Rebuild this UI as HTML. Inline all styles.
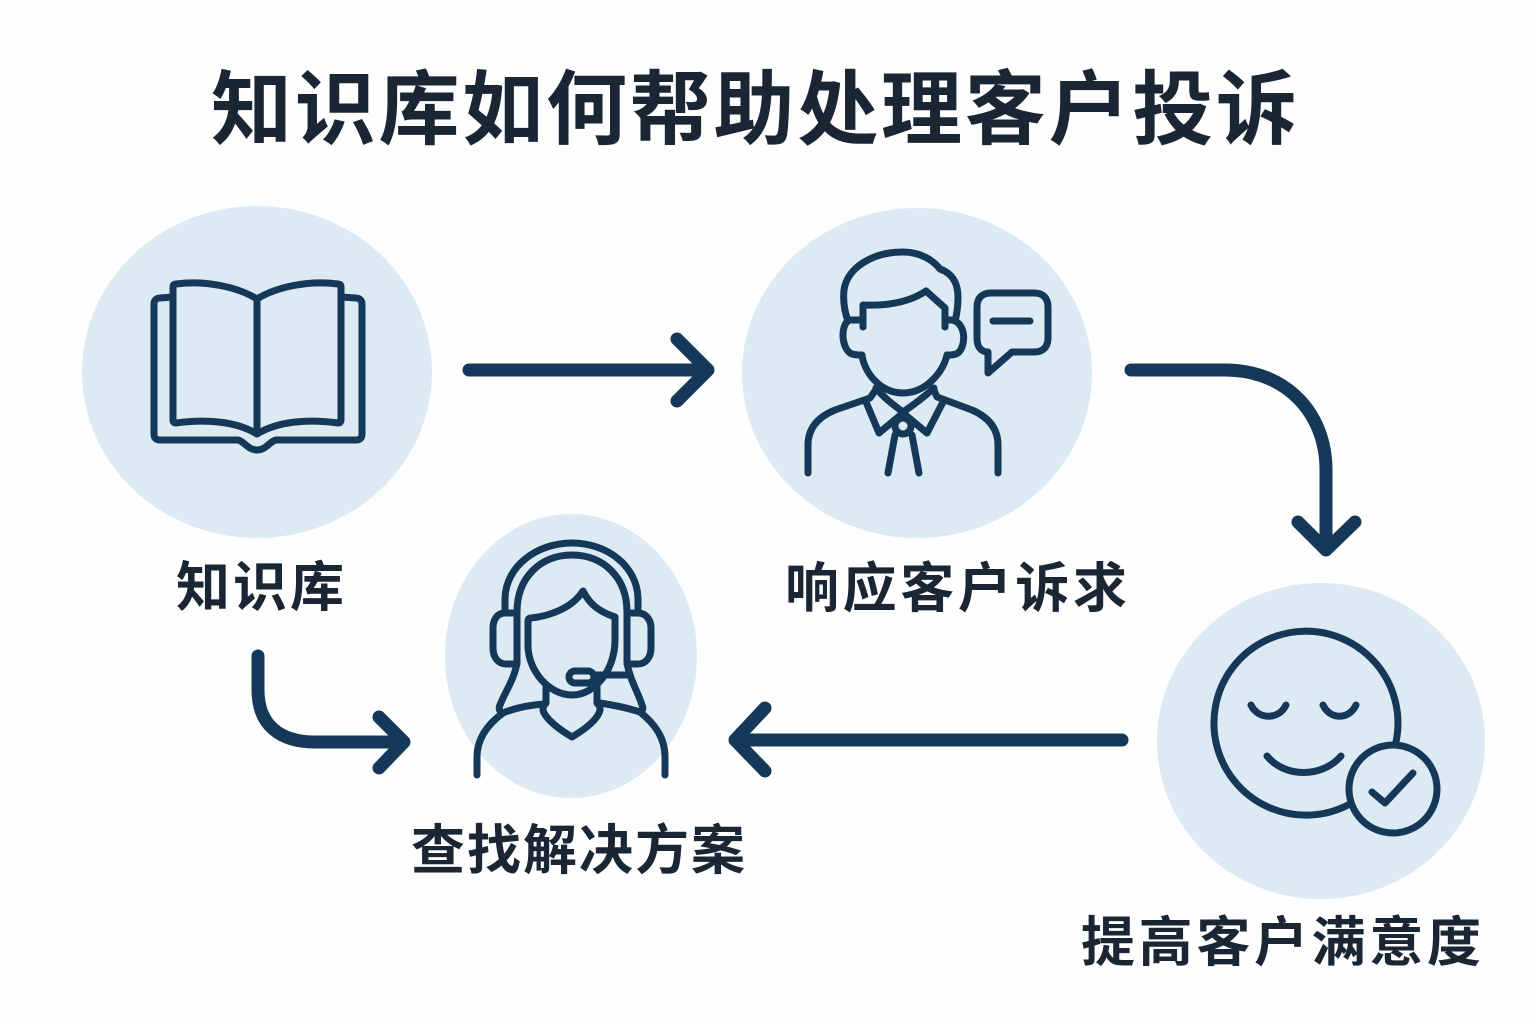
<!DOCTYPE html>
<html lang="zh"><head><meta charset="utf-8"><style>
html,body{margin:0;padding:0;background:#fefefe}
svg{display:block}
text{font-family:"Liberation Sans","Noto Sans CJK SC",sans-serif;font-weight:700;fill:#1a2633;text-anchor:middle}
.s{fill:none;stroke:#163858;stroke-linecap:round;stroke-linejoin:round}
.a{fill:none;stroke:#163858;stroke-width:13;stroke-linecap:round;stroke-linejoin:round}
</style></head><body>
<svg width="1536" height="1024" viewBox="0 0 1536 1024" xmlns="http://www.w3.org/2000/svg">
<rect width="1536" height="1024" fill="#fefefe"/>
<text x="754" y="138" font-size="81" textLength="1086" lengthAdjust="spacing">知识库如何帮助处理客户投诉</text>
<ellipse cx="257" cy="372" rx="175" ry="166" fill="#dceaf4"/>
<ellipse cx="917" cy="373" rx="175" ry="165" fill="#dceaf4"/>
<ellipse cx="571" cy="656" rx="126" ry="142" fill="#dceaf4"/>
<ellipse cx="1321" cy="741" rx="164" ry="158" fill="#dceaf4"/>

<!-- book -->
<g class="s" stroke-width="7">
<path d="M257 299C238 287 205 280 176 284C174 284 173 285 173 287V420C173 422 174 423 176 423C205 419 236 421 257 434C278 421 309 419 338 423C340 423 341 422 341 420V287C341 285 340 284 338 284C309 280 276 287 257 299Z"/>
<path d="M257 299V434"/>
<path d="M173 297L160 298C156 298 154 301 154 304V434C154 438 156 440 160 440H238C244 441 248 450 257 450C266 450 270 441 276 440H356C360 440 362 438 362 434V304C362 301 360 298 356 298L341 297"/>
</g>
<!-- agent -->
<g class="s" stroke-width="7">
<path d="M848 321C844 310 843 300 844 290C847 268 872 252 903 252C920 252 933 260 940 269C952 273 958 283 958 297C958 306 957 314 955 321"/>
<path d="M848 320H863M863 327V305C885 306 908 303 926 291L945 308V327M945 320H955"/>
<path d="M848 321C841 326 841 346 850 353C853 355 858 355 862 355C864 372 880 393 903 393C926 393 943 372 947 355C951 355 955 355 958 353C966 346 966 326 955 321"/>
<path d="M808 473V445C808 428 818 417 835 410L870 398L877 388"/>
<path d="M998 473V445C998 428 988 417 972 410L937 397L933 388"/>
<path d="M876 388C885 399 895 406 903 412C912 406 924 397 934 388"/>
<path d="M866 402L879 433L903 413L927 433L943 402"/>
<circle cx="903" cy="426" r="8"/>
<path d="M895 435L888 473M912 435L919 473"/>
<path d="M991 293H1034C1043 293 1048 298 1048 307V338C1048 347 1043 352 1034 352H1012L988 373V352H988C981 352 977 347 977 338V307C977 298 982 293 991 293Z"/>
<path d="M993 321H1030"/>
</g>
<!-- support -->
<g class="s" stroke-width="7">
<path d="M505 612V598C506 566 537 543 572 543C607 543 637 566 638 598V612"/>
<path d="M517 612C517 578 540 555 572 555C604 555 627 578 627 612V663C630 680 638 692 642 705C644 709 642 711 640 712"/>
<path d="M517 612V663C514 680 505 692 500 705C498 709 500 712 503 713"/>
<path d="M517 613H505C497 613 493 620 493 628V648C493 657 498 664 506 664H517"/>
<path d="M627 613H638C646 613 651 620 651 628V648C651 657 646 664 638 664H627"/>
<path d="M531 618C550 616 572 608 583 591C590 605 600 612 615 617V640C615 670 595 695 572 695C550 695 528 672 528 645V621C528 619 529 618 531 618Z"/>
<path d="M546 687V703C543 706 542 709 544 713C549 722 562 731 572 737C582 731 595 722 599 713C601 709 600 706 597 703V687"/>
<path d="M477 775V757C477 738 488 724 503 713C515 708 530 705 544 704"/>
<path d="M665 775V757C665 738 655 724 640 712C628 708 613 705 600 703"/>
<rect x="569" y="671" width="25" height="12" rx="6"/>
<path d="M594 675H627"/>
</g>
<!-- smile -->
<g class="s" stroke-width="7">
<path d="M1396 742A92 92 0 1 0 1348 805"/>
<path d="M1251 705C1258 720 1279 720 1286 705M1323 705C1330 720 1349 720 1356 705"/>
<path d="M1267 756C1285 778 1322 778 1341 756"/>
<circle cx="1393" cy="789" r="44"/>
<path d="M1372 792L1385 803L1413 773"/>
</g>

<!-- arrows -->
<path class="a" d="M469 370H708M677 339L708 370L677 401"/>
<path class="a" d="M1131 370H1225C1285 370 1326 412 1326 470V550M1298 522L1326 550L1355 522"/>
<path class="a" d="M1122 740H735M765 708L735 740L765 771"/>
<path class="a" d="M258 656V690C258 725 280 742 315 742H404M379 717L404 742L379 768"/>

<text x="260" y="606" font-size="54" textLength="168">知识库</text>
<text x="956" y="607" font-size="54" textLength="342">响应客户诉求</text>
<text x="578" y="869" font-size="54" textLength="334">查找解决方案</text>
<text x="1281" y="961" font-size="54" textLength="400">提高客户满意度</text>
</svg>
</body></html>
